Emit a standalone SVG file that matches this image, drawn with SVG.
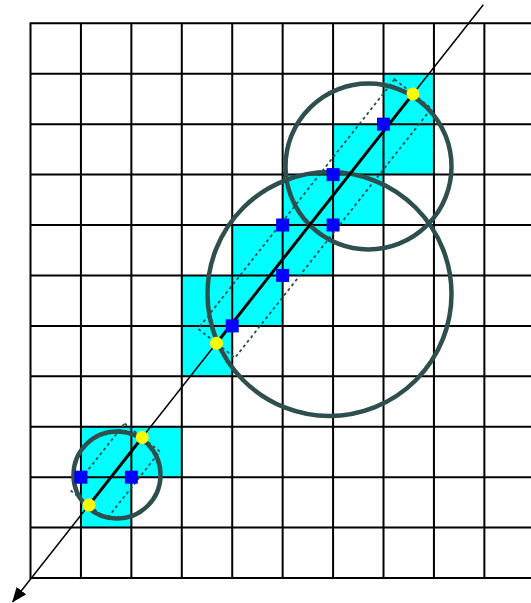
<svg xmlns="http://www.w3.org/2000/svg" width="531" height="603" viewBox="0 0 531 603">
<style>
.cell{fill:#00FFFF;stroke:none}
.grid{stroke:#000;stroke-width:2;fill:none}
.dash{stroke:#2F4F4F;stroke-width:1.8;stroke-dasharray:3,3;fill:none}
.circ{stroke:#2F4F4F;stroke-width:4.5;fill:none}
.thin{stroke:#000;stroke-width:1.5;fill:none}
.thick{stroke:#000;stroke-width:3;fill:none}
.blue{fill:#0000FF}
.yel{fill:#FFFF00}
</style>
<defs>
<marker id="arr" markerUnits="userSpaceOnUse" markerWidth="15" markerHeight="12" refX="14" refY="6" orient="auto">
<path d="M0,0 L15,6 L0,12 z" fill="#000"/>
</marker>
</defs>
<rect width="531" height="603" fill="#fff"/>
<g id="cells">
<rect class="cell" x="383.51" y="73.73" width="50.43" height="50.43"/>
<rect class="cell" x="333.08" y="124.16" width="50.43" height="50.43"/>
<rect class="cell" x="383.51" y="124.16" width="50.43" height="50.43"/>
<rect class="cell" x="282.65" y="174.59" width="50.43" height="50.43"/>
<rect class="cell" x="333.08" y="174.59" width="50.43" height="50.43"/>
<rect class="cell" x="232.22" y="225.02" width="50.43" height="50.43"/>
<rect class="cell" x="282.65" y="225.02" width="50.43" height="50.43"/>
<rect class="cell" x="181.79" y="275.45" width="50.43" height="50.43"/>
<rect class="cell" x="232.22" y="275.45" width="50.43" height="50.43"/>
<rect class="cell" x="181.79" y="325.88" width="50.43" height="50.43"/>
<rect class="cell" x="80.93" y="426.74" width="50.43" height="50.43"/>
<rect class="cell" x="131.36" y="426.74" width="50.43" height="50.43"/>
<rect class="cell" x="80.93" y="477.17" width="50.43" height="50.43"/>
</g>
<g id="grid">
<path class="grid" d="M30.5,23.3V578M80.93,23.3V578M131.36,23.3V578M181.79,23.3V578M232.22,23.3V578M282.65,23.3V578M333.08,23.3V578M383.51,23.3V578M433.94,23.3V578M484.37,23.3V578
M29.5,23.3H531M29.5,73.73H531M29.5,124.16H531M29.5,174.59H531M29.5,225.02H531M29.5,275.45H531M29.5,325.88H531M29.5,376.31H531M29.5,426.74H531M29.5,477.17H531M29.5,527.6H531M29.5,578H531"/>
</g>
<g id="bounds">
<polygon class="dash" points="394.52,79.38 431.44,108.48 234.97,357.8 198.05,328.7"/>
<polygon class="dash" points="124.56,423.58 159.9,451.44 106.67,518.99 71.33,491.13"/>
</g>
<g id="circles">
<circle id="circle-small" class="circ" cx="117" cy="475" r="43.5"/>
<circle id="circle-big" class="circ" cx="329.5" cy="294" r="122"/>
<circle id="circle-top" class="circ" cx="368.5" cy="166.5" r="83"/>
</g>
<g id="connectors">
<line class="thin" x1="483.3" y1="4.7" x2="12.7" y2="601.7" marker-end="url(#arr)"/>
<line class="thick" x1="216.51" y1="343.25" x2="412.98" y2="93.93"/>
<line class="thick" x1="89" y1="505.06" x2="142.23" y2="437.51"/>
</g>
<g id="points">
<rect class="blue" x="377" y="117.66" width="13" height="13"/>
<rect class="blue" x="326.58" y="168.09" width="13" height="13"/>
<rect class="blue" x="276.15" y="218.52" width="13" height="13"/>
<rect class="blue" x="326.58" y="218.52" width="13" height="13"/>
<rect class="blue" x="276.15" y="268.95" width="13" height="13"/>
<rect class="blue" x="225.72" y="319.38" width="13" height="13"/>
<rect class="blue" x="74.43" y="470.67" width="13" height="13"/>
<rect class="blue" x="124.86" y="470.67" width="13" height="13"/>
<circle class="yel" cx="412.98" cy="93.93" r="6.5"/>
<circle class="yel" cx="216.51" cy="343.25" r="6.5"/>
<circle class="yel" cx="142.23" cy="437.51" r="6.5"/>
<circle class="yel" cx="89" cy="505.06" r="6.5"/>
</g>
</svg>
